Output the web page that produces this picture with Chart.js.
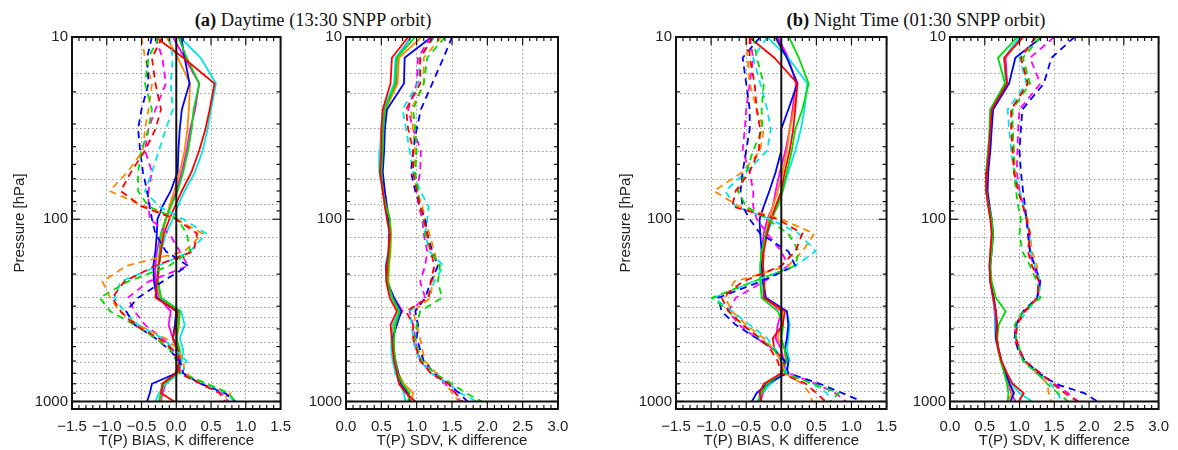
<!DOCTYPE html>
<html>
<head>
<meta charset="utf-8">
<script src="https://cdn.jsdelivr.net/npm/chart.js@4.4.1/dist/chart.umd.min.js"></script>
<style>
  body { margin: 0; background: #fff; }
  #wrap { position: relative; width: 1178px; height: 450px; overflow: hidden; background: #fff; }
  canvas { position: absolute; top: 0; }
  .ttl { position: absolute; top: 8px; width: 400px; text-align: center; font-family: 'Liberation Serif', serif; font-size: 18.5px; line-height: 24px; color: #111; white-space: nowrap; }
</style>
</head>
<body>
<div id="wrap">
  <div class="ttl" style="left:113px"><b>(a)</b> Daytime (13:30 SNPP orbit)</div>
  <div class="ttl" style="left:716px"><b>(b)</b> Night Time (01:30 SNPP orbit)</div>
  <canvas id="c1" width="300" height="450" style="left:0px"></canvas>
  <canvas id="c2" width="300" height="450" style="left:286px"></canvas>
  <canvas id="c3" width="320" height="450" style="left:586px"></canvas>
  <canvas id="c4" width="288" height="450" style="left:890px"></canvas>
</div>
<script>
// pressure levels (hPa) the profiles are given at
const levels = [10, 13, 18, 25, 32, 42, 55, 70, 85, 100, 120, 150, 180, 220, 270, 320, 380, 450, 520, 600, 700, 800, 900, 1000];
// dotted horizontal grid levels
const gridLevels = [10, 15.8, 20.5, 31.9, 42.4, 60.7, 82.6, 100, 126, 160, 203, 270, 306, 344, 394, 477, 553, 615, 698, 792, 880, 1000];
const yLabels = [10, 100, 1000];

// (a) daytime bias, solid
const dayBiasRed     = [-0.30, 0.10, 0.55, 0.48, 0.42, 0.33, 0.22, 0.08, -0.02, -0.10, -0.18, -0.22, -0.25, -0.28, -0.30, 0.02, 0.00, -0.05, 0.02, 0.05, 0.00, -0.20, -0.22, -0.03];
const dayBiasGreen   = [0.03, 0.15, 0.33, 0.25, 0.22, 0.17, 0.10, 0.02, -0.08, -0.15, -0.22, -0.24, -0.25, -0.26, -0.22, 0.05, 0.03, 0.00, 0.05, 0.06, 0.02, -0.18, -0.22, -0.25];
const dayBiasBlue    = [0.07, 0.12, 0.19, 0.08, 0.05, 0.03, 0.02, -0.08, -0.20, -0.27, -0.28, -0.30, -0.33, -0.32, -0.28, 0.00, -0.02, -0.05, 0.02, 0.05, 0.00, -0.35, -0.38, -0.42];
const dayBiasCyan    = [0.05, 0.35, 0.57, 0.50, 0.45, 0.38, 0.27, 0.12, 0.02, -0.05, -0.15, -0.22, -0.25, -0.27, -0.22, 0.07, 0.12, 0.05, 0.10, 0.08, 0.03, -0.15, -0.25, -0.30];
const dayBiasOrange  = [-0.14, 0.02, 0.20, 0.18, 0.16, 0.12, 0.05, -0.03, -0.10, -0.15, -0.20, -0.24, -0.26, -0.27, -0.24, 0.05, 0.04, 0.01, 0.03, 0.05, -0.02, -0.20, -0.22, -0.23];
const dayBiasMagenta = [-0.05, 0.12, 0.33, 0.27, 0.20, 0.15, 0.08, 0.00, -0.08, -0.15, -0.22, -0.28, -0.30, -0.30, -0.25, -0.08, -0.11, -0.05, 0.03, 0.05, 0.00, -0.15, -0.20, -0.22];
// (a) daytime bias, dashed
const dayBiasRedD     = [-0.20, -0.35, -0.30, -0.22, -0.30, -0.45, -0.65, -0.80, -0.50, 0.00, 0.30, 0.25, -0.30, -0.75, -0.92, -0.80, -0.60, -0.25, -0.05, 0.02, 0.05, 0.35, 0.62, 0.70];
const dayBiasGreenD   = [-0.25, -0.40, -0.45, -0.35, -0.40, -0.50, -0.55, -0.55, -0.40, 0.02, 0.15, 0.20, -0.10, -0.70, -1.10, -0.95, -0.60, -0.30, -0.08, 0.00, 0.05, 0.45, 0.75, 0.85];
const dayBiasBlueD    = [-0.35, -0.42, -0.40, -0.50, -0.55, -0.52, -0.48, -0.42, -0.38, -0.35, -0.30, -0.15, 0.17, -0.20, -0.55, -0.72, -0.60, -0.30, -0.10, 0.05, 0.10, 0.35, 0.70, 0.85];
const dayBiasCyanD    = [-0.10, -0.05, -0.08, -0.05, -0.15, -0.25, -0.35, -0.45, -0.25, 0.10, 0.43, 0.20, -0.25, -0.80, -0.89, -0.75, -0.55, -0.20, -0.02, 0.15, 0.08, 0.40, 0.70, 0.85];
const dayBiasOrangeD  = [-0.50, -0.45, -0.35, -0.40, -0.45, -0.48, -0.70, -0.96, -0.45, 0.00, 0.38, 0.12, -0.72, -1.06, -0.95, -0.82, -0.55, -0.16, 0.03, 0.10, 0.12, 0.40, 0.78, 0.64];
const dayBiasMagentaD = [-0.30, -0.20, -0.15, -0.30, -0.40, -0.45, -0.35, -0.40, -0.40, -0.38, -0.10, 0.05, 0.17, -0.40, -0.70, -0.60, -0.45, -0.20, -0.05, 0.05, 0.05, 0.35, 0.65, 0.75];

// (a) daytime SDV, solid
const daySdvRed     = [0.88, 0.65, 0.63, 0.52, 0.50, 0.50, 0.48, 0.52, 0.55, 0.58, 0.62, 0.60, 0.58, 0.57, 0.62, 0.72, 0.63, 0.65, 0.66, 0.68, 0.72, 0.75, 0.85, 0.98];
const daySdvGreen   = [0.98, 0.72, 0.70, 0.55, 0.53, 0.52, 0.50, 0.52, 0.57, 0.62, 0.63, 0.62, 0.60, 0.59, 0.66, 0.76, 0.70, 0.68, 0.68, 0.70, 0.73, 0.80, 0.90, 0.88];
const daySdvBlue    = [1.21, 0.83, 0.82, 0.58, 0.55, 0.54, 0.52, 0.55, 0.58, 0.60, 0.62, 0.61, 0.57, 0.58, 0.68, 0.78, 0.72, 0.66, 0.67, 0.70, 0.74, 0.78, 0.88, 0.90];
const daySdvCyan    = [0.92, 0.70, 0.68, 0.53, 0.50, 0.48, 0.47, 0.52, 0.55, 0.59, 0.61, 0.60, 0.56, 0.57, 0.65, 0.75, 0.66, 0.64, 0.64, 0.66, 0.70, 0.76, 0.82, 0.84];
const daySdvOrange  = [1.07, 0.75, 0.73, 0.56, 0.54, 0.53, 0.51, 0.54, 0.58, 0.62, 0.64, 0.63, 0.61, 0.60, 0.66, 0.74, 0.68, 0.67, 0.68, 0.70, 0.74, 0.82, 0.95, 0.92];
const daySdvMagenta = [0.92, 0.72, 0.71, 0.54, 0.51, 0.50, 0.49, 0.53, 0.56, 0.60, 0.62, 0.60, 0.58, 0.58, 0.68, 0.80, 0.68, 0.66, 0.67, 0.69, 0.73, 0.79, 0.86, 0.92];
// (a) daytime SDV, dashed
const daySdvRedD     = [1.23, 1.05, 1.05, 0.85, 0.88, 0.95, 0.95, 1.00, 1.05, 1.10, 1.15, 1.20, 1.25, 1.20, 1.17, 0.85, 0.95, 0.95, 1.00, 1.05, 1.20, 1.45, 1.55, 1.65];
const daySdvGreenD   = [1.40, 1.15, 1.10, 0.95, 0.98, 1.00, 0.98, 1.02, 1.05, 1.10, 1.12, 1.20, 1.33, 1.30, 1.36, 1.05, 1.00, 0.98, 1.02, 1.08, 1.25, 1.50, 1.70, 1.92];
const daySdvBlueD    = [1.50, 1.38, 1.22, 1.06, 1.00, 0.95, 0.92, 0.98, 1.05, 1.12, 1.15, 1.22, 1.30, 1.20, 1.12, 0.98, 1.02, 1.00, 1.05, 1.10, 1.25, 1.45, 1.60, 1.72];
const daySdvCyanD    = [1.25, 1.05, 1.02, 0.80, 0.85, 0.90, 0.95, 1.05, 1.17, 1.15, 1.12, 1.18, 1.38, 1.25, 1.15, 0.90, 0.93, 0.95, 0.98, 1.05, 1.20, 1.45, 1.62, 1.85];
const daySdvOrangeD  = [1.35, 1.10, 1.10, 0.92, 0.95, 0.98, 0.96, 1.00, 1.08, 1.12, 1.18, 1.25, 1.30, 1.22, 1.20, 0.95, 1.00, 1.05, 1.08, 1.12, 1.28, 1.42, 1.50, 1.60];
const daySdvMagentaD = [1.20, 1.02, 1.00, 0.88, 0.95, 1.06, 1.05, 1.00, 1.03, 1.08, 1.10, 1.15, 1.12, 1.05, 1.12, 0.90, 0.95, 0.98, 1.00, 1.06, 1.22, 1.40, 1.55, 1.62];

// (b) night bias, solid
const nightBiasRed     = [-0.46, -0.10, 0.23, 0.20, 0.17, 0.12, 0.05, 0.00, -0.08, -0.15, -0.20, -0.25, -0.26, -0.24, -0.25, 0.05, 0.02, -0.12, -0.10, 0.05, 0.00, -0.25, -0.31, -0.28];
const nightBiasGreen   = [0.11, 0.25, 0.39, 0.30, 0.20, 0.15, 0.08, 0.02, -0.05, -0.15, -0.22, -0.28, -0.30, -0.30, -0.28, -0.05, 0.03, 0.00, 0.05, 0.08, 0.00, -0.20, -0.28, -0.32];
const nightBiasBlue    = [-0.08, 0.08, 0.23, 0.10, 0.00, 0.00, -0.08, -0.17, -0.25, -0.31, -0.30, -0.28, -0.28, -0.26, -0.22, 0.08, 0.10, 0.08, 0.05, 0.10, 0.08, -0.20, -0.35, -0.42];
const nightBiasCyan    = [-0.20, 0.10, 0.37, 0.33, 0.28, 0.20, 0.10, 0.02, -0.08, -0.12, -0.20, -0.28, -0.30, -0.28, -0.25, 0.08, 0.12, 0.10, 0.08, 0.12, 0.05, -0.15, -0.28, -0.34];
const nightBiasOrange  = [-0.10, 0.08, 0.23, 0.18, 0.12, 0.08, 0.02, -0.05, -0.12, -0.18, -0.22, -0.26, -0.27, -0.25, -0.22, 0.02, 0.00, -0.05, 0.05, 0.06, 0.00, -0.22, -0.30, -0.33];
const nightBiasMagenta = [-0.05, 0.10, 0.21, 0.16, 0.12, 0.06, -0.02, -0.08, -0.12, -0.20, -0.25, -0.28, -0.29, -0.27, -0.24, 0.00, -0.05, -0.08, 0.00, 0.04, 0.00, -0.18, -0.26, -0.30];
// (b) night bias, dashed
const nightBiasRedD     = [-0.45, -0.45, -0.38, -0.35, -0.30, -0.32, -0.45, -0.65, -0.70, -0.05, 0.30, 0.20, 0.00, -0.55, -0.85, -0.75, -0.55, -0.30, -0.15, -0.05, 0.00, 0.35, 0.50, 0.63];
const nightBiasGreenD   = [-0.40, -0.35, -0.25, -0.28, -0.27, -0.40, -0.50, -0.62, -0.50, -0.20, 0.10, 0.25, 0.20, -0.40, -0.99, -0.75, -0.55, -0.30, -0.10, 0.00, 0.05, 0.45, 0.82, 0.70];
const nightBiasBlueD    = [-0.30, -0.55, -0.50, -0.45, -0.45, -0.50, -0.55, -0.58, -0.55, -0.45, -0.30, 0.10, 0.20, -0.30, -0.90, -0.85, -0.65, -0.35, -0.10, 0.05, 0.10, 0.55, 0.87, 1.15];
const nightBiasCyanD    = [-0.20, -0.40, -0.30, -0.20, -0.15, -0.20, -0.50, -0.80, -0.65, -0.15, 0.25, 0.49, 0.20, -0.40, -0.96, -0.70, -0.45, -0.20, -0.08, 0.05, 0.08, 0.45, 0.65, 0.70];
const nightBiasOrangeD  = [-0.50, -0.48, -0.45, -0.35, -0.25, -0.30, -0.55, -0.96, -0.60, 0.00, 0.47, 0.30, 0.10, -0.67, -0.80, -0.70, -0.50, -0.25, -0.10, 0.00, 0.05, 0.30, 0.40, 0.44];
const nightBiasMagentaD = [-0.45, -0.40, -0.45, -0.50, -0.52, -0.55, -0.45, -0.40, -0.40, -0.35, -0.20, 0.00, 0.10, -0.25, -0.65, -0.75, -0.60, -0.35, -0.10, 0.00, 0.10, 0.50, 0.77, 0.92];

// (b) night SDV, solid
const nightSdvRed     = [1.05, 0.78, 0.82, 0.60, 0.58, 0.56, 0.53, 0.52, 0.55, 0.58, 0.60, 0.58, 0.57, 0.58, 0.62, 0.66, 0.68, 0.67, 0.70, 0.74, 0.82, 0.90, 1.06, 0.99];
const nightSdvGreen   = [0.97, 0.69, 0.79, 0.58, 0.57, 0.55, 0.52, 0.52, 0.56, 0.60, 0.62, 0.60, 0.58, 0.60, 0.66, 0.80, 0.70, 0.68, 0.70, 0.73, 0.78, 0.82, 0.84, 0.83];
const nightSdvBlue    = [1.32, 0.94, 0.85, 0.62, 0.60, 0.58, 0.55, 0.54, 0.57, 0.60, 0.62, 0.60, 0.58, 0.58, 0.63, 0.66, 0.67, 0.66, 0.70, 0.74, 0.80, 0.86, 0.92, 0.87];
const nightSdvCyan    = [1.00, 0.78, 0.80, 0.58, 0.57, 0.55, 0.52, 0.52, 0.55, 0.58, 0.60, 0.58, 0.56, 0.58, 0.62, 0.65, 0.66, 0.65, 0.70, 0.74, 0.80, 0.88, 1.00, 1.18];
const nightSdvOrange  = [1.06, 0.78, 0.81, 0.59, 0.58, 0.56, 0.53, 0.53, 0.56, 0.59, 0.61, 0.59, 0.57, 0.59, 0.63, 0.66, 0.67, 0.66, 0.69, 0.73, 0.80, 0.85, 0.90, 0.82];
const nightSdvMagenta = [1.03, 0.80, 0.82, 0.60, 0.58, 0.55, 0.53, 0.52, 0.56, 0.59, 0.61, 0.59, 0.57, 0.58, 0.62, 0.64, 0.65, 0.66, 0.69, 0.73, 0.79, 0.84, 0.88, 0.94];
// (b) night SDV, dashed
const nightSdvRedD     = [1.23, 1.02, 1.12, 0.88, 0.88, 0.90, 0.92, 0.98, 1.05, 1.10, 1.15, 1.12, 1.18, 1.28, 1.25, 1.08, 0.96, 0.95, 1.00, 1.08, 1.30, 1.48, 1.65, 1.84];
const nightSdvGreenD   = [1.30, 1.05, 1.15, 0.90, 0.90, 0.92, 0.92, 0.95, 0.98, 1.02, 1.00, 1.04, 1.15, 1.25, 1.30, 1.05, 0.93, 0.95, 1.00, 1.05, 1.25, 1.40, 1.55, 1.70];
const nightSdvBlueD    = [1.79, 1.46, 1.35, 1.04, 1.02, 1.00, 1.02, 1.05, 1.08, 1.10, 1.12, 1.15, 1.22, 1.30, 1.25, 1.05, 0.95, 0.93, 0.98, 1.08, 1.28, 1.52, 1.93, 2.12];
const nightSdvCyanD    = [1.25, 1.00, 1.10, 0.83, 0.85, 0.88, 0.92, 1.00, 1.06, 1.10, 1.14, 1.16, 1.22, 1.30, 1.28, 1.10, 0.97, 0.95, 1.00, 1.06, 1.28, 1.45, 1.55, 1.60];
const nightSdvOrangeD  = [1.25, 1.02, 1.12, 0.88, 0.90, 0.92, 0.94, 0.98, 1.06, 1.12, 1.15, 1.18, 1.25, 1.28, 1.26, 1.08, 0.96, 0.94, 1.00, 1.06, 1.25, 1.40, 1.42, 1.46];
const nightSdvMagentaD = [1.50, 1.15, 1.30, 1.00, 0.98, 0.97, 0.96, 1.00, 1.06, 1.10, 1.14, 1.15, 1.20, 1.28, 1.27, 1.06, 0.94, 0.93, 0.98, 1.07, 1.30, 1.50, 1.70, 1.84];

const RED = '#ff0000', GREEN = '#00dd00', BLUE = '#0000ff', CYAN = '#00e6e6', ORANGE = '#ff8800', MAGENTA = '#ff00ff';
const FONT = 'Liberation Sans, Arial, sans-serif';
const INK = '#222';

function series(vals, color, dashed) {
    return {
        data: levels.map((p, i) => ({ x: vals[i], y: p })),
        borderColor: color,
        borderWidth: 1.8,
        borderDash: dashed ? [7, 5] : [],
        pointRadius: 0,
        fill: false,
        tension: 0
    };
}

// frame, inward tick marks, zero line and 1000 hPa line
const framePlugin = {
    id: 'frame',
    afterDatasetsDraw(chart, args, opts) {
        const { ctx, chartArea: a, scales: { x, y } } = chart;
        ctx.save();
        ctx.strokeStyle = '#111';
        const seg = (x1, y1, x2, y2) => { ctx.beginPath(); ctx.moveTo(x1, y1); ctx.lineTo(x2, y2); ctx.stroke(); };

        ctx.lineWidth = 2;
        const y1000 = y.getPixelForValue(1000);
        seg(a.left, y1000, a.right, y1000);
        if (opts.zero) {
            const x0 = x.getPixelForValue(0);
            seg(x0, a.top, x0, y1000);
        }

        ctx.lineWidth = 1.2;
        // x minor ticks every 0.1, major every 0.5
        for (let k = 0; k <= 30; k++) {
            const px = x.getPixelForValue(x.min + k * 0.1);
            const len = k % 5 === 0 ? 8 : 4;
            seg(px, a.top, px, a.top + len);
            seg(px, a.bottom, px, a.bottom - len);
        }
        // y log ticks
        [10, 100].forEach(d => {
            for (let m = 1; m <= 9; m++) {
                const py = y.getPixelForValue(d * m);
                const len = m === 1 ? 8 : 4;
                seg(a.left, py, a.left + len, py);
                seg(a.right, py, a.right - len, py);
            }
        });
        const pb = y.getPixelForValue(1000);
        seg(a.left, pb, a.left + 8, pb);
        seg(a.right, pb, a.right - 8, pb);

        ctx.lineWidth = 2;
        ctx.strokeRect(a.left, a.top, a.right - a.left, a.bottom - a.top);
        ctx.restore();
    }
};

function makePanel(id, datasets, xmin, xmax, xTitle, yTitlePad, yWidth, padRight, zero) {
    new Chart(document.getElementById(id), {
        type: 'line',
        data: { datasets: datasets },
        options: {
            responsive: false,
            animation: false,
            devicePixelRatio: 1,
            layout: { padding: { top: 37, right: padRight, bottom: 0, left: 0 } },
            plugins: { legend: { display: false }, tooltip: { enabled: false }, frame: { zero: zero } },
            scales: {
                x: {
                    type: 'linear',
                    min: xmin,
                    max: xmax,
                    ticks: {
                        stepSize: 0.5,
                        autoSkip: false,
                        maxRotation: 0,
                        padding: 9,
                        color: INK,
                        font: { family: FONT, size: 15 },
                        callback: v => v.toFixed(1).replace('-', '\u2212')
                    },
                    grid: { color: '#9a9a9a', lineWidth: 1, drawTicks: false },
                    border: { display: false, dash: [1.5, 2.5] },
                    title: { display: true, text: xTitle, color: INK, font: { family: FONT, size: 15 }, padding: { top: 0, bottom: 0 } },
                    afterFit: s => { s.height = 41; }
                },
                y: {
                    type: 'logarithmic',
                    reverse: true,
                    min: 10,
                    max: 1100,
                    afterBuildTicks: s => { s.ticks = gridLevels.map(v => ({ value: v })); },
                    ticks: {
                        autoSkip: false,
                        padding: 4,
                        color: INK,
                        font: { family: FONT, size: 15 },
                        callback: v => yLabels.includes(v) ? String(v) : ''
                    },
                    grid: { color: '#9a9a9a', lineWidth: 1, drawTicks: false },
                    border: { display: false, dash: [1.5, 2.5] },
                    title: {
                        display: yTitlePad !== null,
                        text: 'Pressure [hPa]',
                        color: INK,
                        font: { family: FONT, size: 15 },
                        padding: { top: yTitlePad || 0, bottom: 0 }
                    },
                    afterFit: s => { s.width = yWidth; }
                }
            }
        },
        plugins: [framePlugin]
    });
}

function sixLines(r, g, b, c, o, m, dashed) {
    return [series(r, RED, dashed), series(g, GREEN, dashed), series(b, BLUE, dashed),
            series(c, CYAN, dashed), series(o, ORANGE, dashed), series(m, MAGENTA, dashed)];
}

makePanel('c1', [
    ...sixLines(dayBiasRedD, dayBiasGreenD, dayBiasBlueD, dayBiasCyanD, dayBiasOrangeD, dayBiasMagentaD, true),
    ...sixLines(dayBiasRed, dayBiasGreen, dayBiasBlue, dayBiasCyan, dayBiasOrange, dayBiasMagenta, false)
], -1.5, 1.5, 'T(P) BIAS, K difference', 11, 72, 16, true);

makePanel('c2', [
    ...sixLines(daySdvRedD, daySdvGreenD, daySdvBlueD, daySdvCyanD, daySdvOrangeD, daySdvMagentaD, true),
    ...sixLines(daySdvRed, daySdvGreen, daySdvBlue, daySdvCyan, daySdvOrange, daySdvMagenta, false)
], 0, 3, 'T(P) SDV, K difference', null, 60, 28, false);

makePanel('c3', [
    ...sixLines(nightBiasRedD, nightBiasGreenD, nightBiasBlueD, nightBiasCyanD, nightBiasOrangeD, nightBiasMagentaD, true),
    ...sixLines(nightBiasRed, nightBiasGreen, nightBiasBlue, nightBiasCyan, nightBiasOrange, nightBiasMagenta, false)
], -1.5, 1.5, 'T(P) BIAS, K difference', 31, 90, 18, true);

makePanel('c4', [
    ...sixLines(nightSdvRedD, nightSdvGreenD, nightSdvBlueD, nightSdvCyanD, nightSdvOrangeD, nightSdvMagentaD, true),
    ...sixLines(nightSdvRed, nightSdvGreen, nightSdvBlue, nightSdvCyan, nightSdvOrange, nightSdvMagenta, false)
], 0, 3, 'T(P) SDV, K difference', null, 60, 16, false);
</script>
</body>
</html>
